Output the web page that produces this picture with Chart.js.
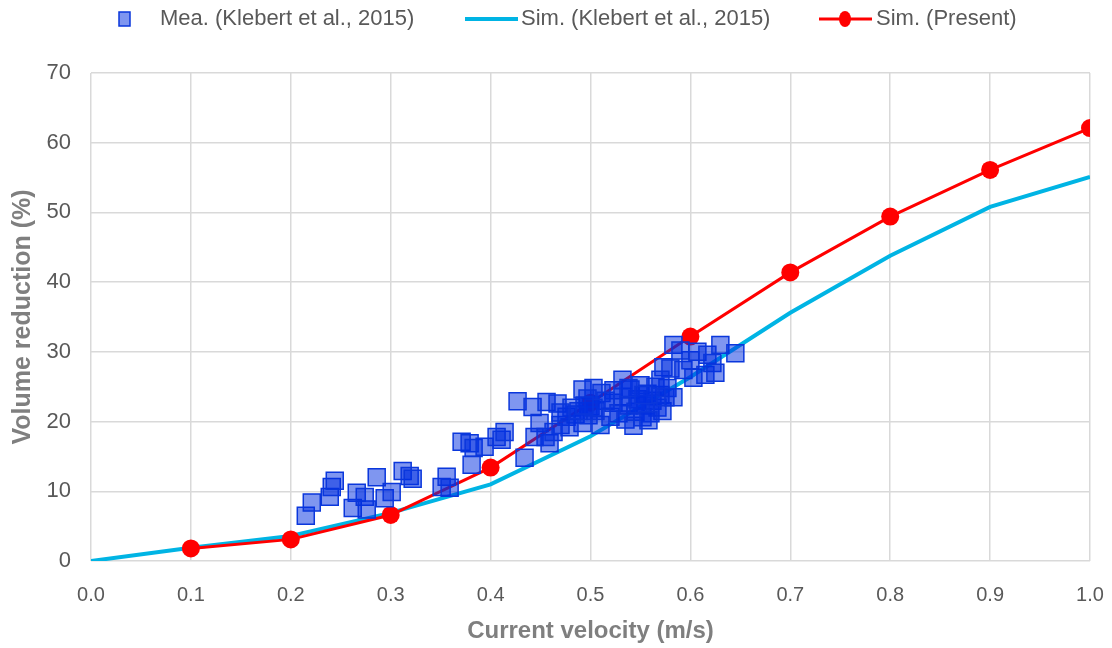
<!DOCTYPE html>
<html>
<head>
<meta charset="utf-8">
<title>Volume reduction vs current velocity</title>
<script src="https://cdn.jsdelivr.net/npm/chart.js@4.4.0/dist/chart.umd.min.js"></script>
<style>
  html, body { margin: 0; padding: 0; background: #fff; }
  #wrap { width: 1112px; height: 648px; }
</style>
</head>
<body>
<div id="wrap"><canvas id="chart"></canvas></div>
<script>
const SANS = "'Liberation Sans', Arial, sans-serif";

// simulated curves (velocity in m/s, volume reduction in %)
const simVelocity = [0.0, 0.1, 0.2, 0.3, 0.4, 0.5, 0.6, 0.7, 0.8, 0.9, 1.0];
const simKlebert = [0, 1.9, 3.6, 6.9, 11.0, 17.9, 26.4, 35.6, 43.8, 50.8, 55.1];

const presentVelocity = [0.1, 0.2, 0.3, 0.4, 0.5, 0.6, 0.7, 0.8, 0.9, 1.0];
const simPresent = [1.8, 3.1, 6.6, 13.4, 22.7, 32.2, 41.4, 49.4, 56.1, 62.1];

// measurements
const meaVelocity = [
  0.215, 0.221, 0.239, 0.241, 0.244, 0.262, 0.266, 0.274, 0.276, 0.286, 0.294, 0.301, 0.312, 0.319, 0.322,
  0.351, 0.356, 0.359, 0.371, 0.379, 0.383, 0.381, 0.394, 0.406, 0.411, 0.414, 0.427, 0.434,
  0.442, 0.456, 0.467, 0.444, 0.449, 0.459, 0.455, 0.463, 0.470, 0.476, 0.481, 0.485, 0.492, 0.492,
  0.503, 0.511, 0.498, 0.510, 0.520, 0.523, 0.523, 0.500, 0.505, 0.515, 0.488, 0.479, 0.470,
  0.497, 0.503, 0.494,
  0.528, 0.532, 0.532, 0.535, 0.538, 0.540, 0.543, 0.545, 0.547, 0.550, 0.552, 0.555, 0.557, 0.560,
  0.562, 0.565, 0.567, 0.570, 0.572, 0.575, 0.577, 0.548, 0.558, 0.538, 0.553,
  0.573, 0.580, 0.583, 0.583, 0.570, 0.593, 0.600, 0.603, 0.607, 0.615, 0.617, 0.622, 0.625, 0.630, 0.645, 0.590
];
const meaReduction = [
  6.5, 8.4, 9.2, 10.6, 11.5, 7.6, 9.8, 9.2, 7.4, 12.0, 9.0, 9.9, 12.9, 12.2, 11.8,
  10.6, 12.1, 10.5, 17.1, 16.9, 16.2, 13.8, 16.4, 17.8, 17.4, 18.5, 22.9, 14.8,
  22.1, 22.8, 22.6, 17.8, 19.8, 16.9, 17.8, 18.5, 19.5, 20.7, 22.0, 21.0, 19.8, 24.6,
  24.8, 24.1, 20.9, 19.5, 20.7, 22.7, 24.5, 22.2, 21.5, 23.0, 21.5, 19.2, 21.3,
  23.3, 22.0, 22.3,
  21.2, 23.5, 26.0, 20.3, 22.3, 24.6, 19.4, 21.4, 23.2, 25.2, 20.6, 22.3, 24.0, 21.2,
  23.0, 25.0, 22.0, 23.8, 21.5, 23.5, 24.8, 22.5, 20.2, 24.8, 23.8,
  27.8, 27.6, 31.0, 23.5, 26.0, 27.4, 28.8, 26.3, 30.0, 26.7, 29.6, 28.4, 27.0, 31.0, 29.8, 30.2
];

const labels = ['Mea. (Klebert et al., 2015)', 'Sim. (Klebert et al., 2015)', 'Sim. (Present)'];

const toPoints = (xs, ys) => xs.map((x, i) => ({ x: x, y: ys[i] }));

const BLUE_FILL = 'rgba(0, 45, 225, 0.5)';
const BLUE_EDGE = 'rgb(10, 55, 220)';
const CYAN = '#00b4e4';
const RED = '#ff0000';
const TEXT = '#595959';

// legend row drawn above the plot
const topLegend = {
  id: 'topLegend',
  afterDraw(chart) {
    const ctx = chart.ctx;
    const ds = chart.data.datasets;
    const y = 19;
    ctx.save();
    ctx.font = '22px ' + SANS;
    ctx.textBaseline = 'middle';
    ctx.textAlign = 'left';

    // square marker
    ctx.fillStyle = ds[0].backgroundColor;
    ctx.strokeStyle = ds[0].borderColor;
    ctx.lineWidth = 1.5;
    ctx.fillRect(119, y - 7, 11, 14);
    ctx.strokeRect(119, y - 7, 11, 14);
    ctx.fillStyle = TEXT;
    ctx.fillText(ds[0].label, 160, y);

    // plain line
    ctx.strokeStyle = ds[1].borderColor;
    ctx.lineWidth = 4;
    ctx.beginPath();
    ctx.moveTo(465, y);
    ctx.lineTo(518, y);
    ctx.stroke();
    ctx.fillText(ds[1].label, 521, y);

    // line with dot
    ctx.strokeStyle = ds[2].borderColor;
    ctx.lineWidth = 3;
    ctx.beginPath();
    ctx.moveTo(819, y);
    ctx.lineTo(872, y);
    ctx.stroke();
    ctx.fillStyle = ds[2].pointBackgroundColor;
    ctx.beginPath();
    ctx.ellipse(845, y, 6, 8, 0, 0, Math.PI * 2);
    ctx.fill();
    ctx.fillStyle = TEXT;
    ctx.fillText(ds[2].label, 876, y);
    ctx.restore();
  }
};

new Chart(document.getElementById('chart'), {
  type: 'scatter',
  data: {
    datasets: [
      {
        label: labels[0],
        data: toPoints(meaVelocity, meaReduction),
        pointStyle: 'rect',
        pointRadius: 12,
        backgroundColor: BLUE_FILL,
        borderColor: BLUE_EDGE,
        borderWidth: 1.5,
        order: 0
      },
      {
        label: labels[1],
        type: 'line',
        data: toPoints(simVelocity, simKlebert),
        borderColor: CYAN,
        borderWidth: 4,
        pointRadius: 0,
        tension: 0,
        fill: false,
        order: 2
      },
      {
        label: labels[2],
        type: 'line',
        data: toPoints(presentVelocity, simPresent),
        borderColor: RED,
        borderWidth: 3,
        pointRadius: 9,
        pointBackgroundColor: RED,
        pointBorderColor: RED,
        pointBorderWidth: 0,
        tension: 0,
        fill: false,
        order: 1
      }
    ]
  },
  options: {
    responsive: true,
    maintainAspectRatio: false,
    animation: false,
    layout: { padding: { top: 73, right: 22, bottom: 0, left: 0 } },
    plugins: {
      legend: { display: false },
      tooltip: { enabled: false }
    },
    scales: {
      x: {
        type: 'linear',
        min: 0,
        max: 1,
        afterFit: (scale) => {
          scale.height = 87;
          // end labels may hang past the plot edges
          scale.paddingLeft = 0;
          scale.paddingRight = 0;
        },
        border: { display: false },
        grid: { color: '#d9d9d9', lineWidth: 1.5, drawTicks: false },
        ticks: {
          stepSize: 0.1,
          padding: 22,
          color: TEXT,
          font: { family: SANS, size: 20 },
          callback: (v) => v.toFixed(1)
        },
        title: {
          display: true,
          text: 'Current velocity (m/s)',
          color: '#7f7f7f',
          font: { family: SANS, size: 24, weight: 'bold' },
          padding: { top: 0, bottom: 2 }
        }
      },
      y: {
        min: 0,
        max: 70,
        afterFit: (scale) => { scale.width = 91; },
        border: { display: false },
        grid: { color: '#d9d9d9', lineWidth: 1.5, drawTicks: false },
        ticks: {
          stepSize: 10,
          padding: 20,
          color: TEXT,
          font: { family: SANS, size: 22 }
        },
        title: {
          display: true,
          text: 'Volume reduction (%)',
          color: '#7f7f7f',
          font: { family: SANS, size: 25, weight: 'bold' },
          padding: { top: 8, bottom: 0 }
        }
      }
    }
  },
  plugins: [topLegend]
});
</script>
</body>
</html>
